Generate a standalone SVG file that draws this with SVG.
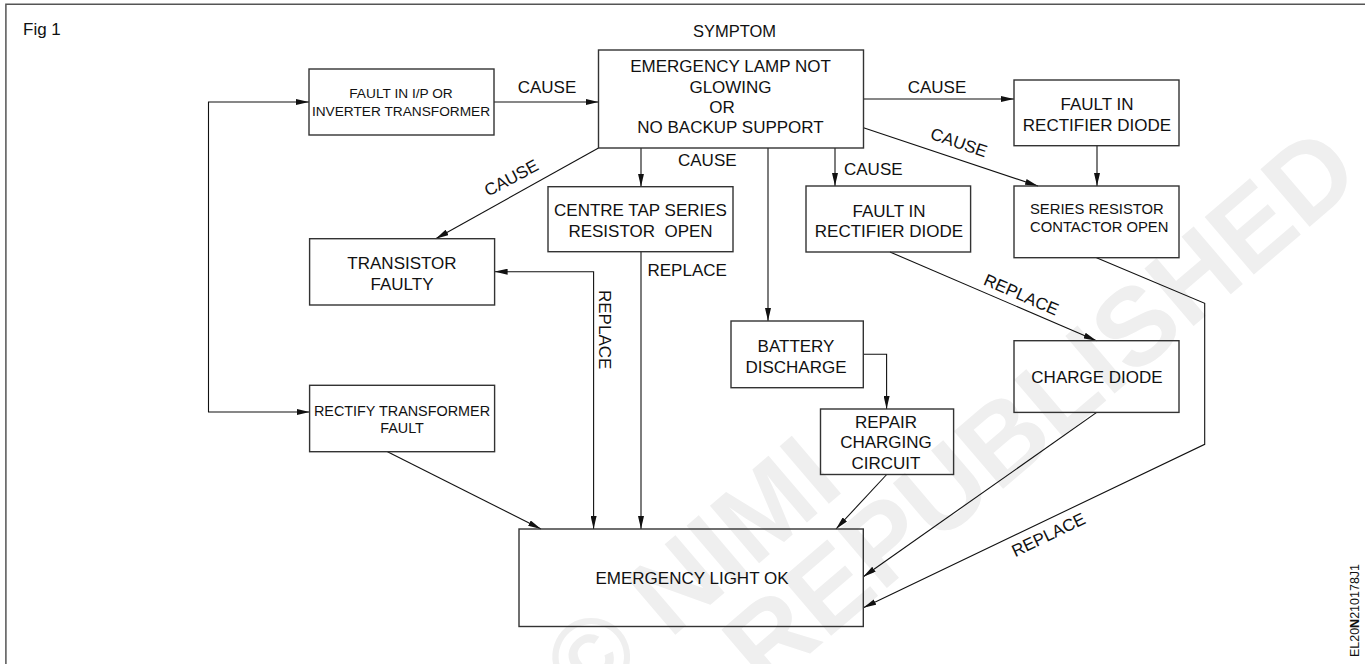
<svg xmlns="http://www.w3.org/2000/svg" width="1365" height="664" viewBox="0 0 1365 664">
  <defs>
    <marker id="arrow" viewBox="0 0 13 6" refX="13" refY="3" markerWidth="13" markerHeight="6" markerUnits="userSpaceOnUse" orient="auto-start-reverse">
      <path d="M0,0 L13,3 L0,6 Z" fill="#111"/>
    </marker>
    <style>
      text { font-family: "Liberation Sans", Arial, sans-serif; fill: #111; }
      .lbl { font-size: 17px; }
      .c { text-anchor: middle; }
      .sm { font-size: 14.8px; }
      .box { fill: none; stroke: #333; stroke-width: 1.4; }
      .wire { fill: none; stroke: #111; stroke-width: 1.1; }
      .arr { marker-end: url(#arrow); }
      .wm { font-size: 110px; font-weight: bold; fill: #efefef; }
    </style>
  </defs>

  <rect width="1365" height="664" fill="#fff"/>

  <!-- faint diagonal watermark -->
  <g id="watermark">
    <text class="wm" transform="translate(585,712) rotate(-40.5)">© NIMI</text>
    <text class="wm" transform="translate(765,692) rotate(-40.5)">REPUBLISHED</text>
  </g>

  <!-- figure frame -->
  <path d="M5.9,664 V4.3 H1365" fill="none" stroke="#555" stroke-width="1.5"/>
  <text x="23" y="35" style="font-size:17px">Fig 1</text>
  <text x="734.5" y="37" class="lbl c" style="font-size:16.5px">SYMPTOM</text>

  <!-- connectors -->
  <g id="connectors">
    <path class="wire" d="M309,102 H208.5 V412 H309.6" marker-start="url(#arrow)" marker-end="url(#arrow)"/>
    <path class="wire arr" d="M494,102 H598.5"/>
    <path class="wire arr" d="M863.5,99 H1014"/>
    <path class="wire arr" d="M1097,145.7 V186"/>
    <path class="wire arr" d="M863.5,127.7 L1038,186"/>
    <path class="wire arr" d="M598.5,148 L435.7,238.7"/>
    <path class="wire arr" d="M641,148 V186.7"/>
    <path class="wire arr" d="M768,148 V321"/>
    <path class="wire arr" d="M835,148 V186"/>
    <path class="wire arr" d="M890,252 L1096.5,340.7"/>
    <path class="wire arr" d="M863.3,354.3 H886.6 V409"/>
    <path class="wire" d="M494.6,271.7 H593.6 V529" marker-start="url(#arrow)" marker-end="url(#arrow)"/>
    <path class="wire arr" d="M641,251.7 V529"/>
    <path class="wire arr" d="M387.5,451.7 L541,529"/>
    <path class="wire arr" d="M886.7,474.5 L836,529"/>
    <path class="wire arr" d="M1096.7,412.4 L863.3,576.7"/>
    <path class="wire arr" d="M1096.5,257.7 L1204.7,303.3 V444.3 L863.3,607.7"/>

    <text class="lbl c" x="547" y="93.3">CAUSE</text>
    <text class="lbl c" x="937" y="93.3">CAUSE</text>
    <text class="lbl c" transform="translate(957,148) rotate(19)">CAUSE</text>
    <text class="lbl c" transform="translate(514,183) rotate(-28)">CAUSE</text>
    <text class="lbl" x="678" y="166">CAUSE</text>
    <text class="lbl" x="844" y="175">CAUSE</text>
    <text class="lbl" transform="translate(599,290) rotate(90)">REPLACE</text>
    <text class="lbl" x="647.5" y="276">REPLACE</text>
    <text class="lbl c" transform="translate(1019,300) rotate(23.5)">REPLACE</text>
    <text class="lbl c" transform="translate(1051,540) rotate(-25.6)">REPLACE</text>
  </g>

  <g id="fault-ip">
    <rect class="box" x="309" y="69" width="185" height="66"/>
    <text class="c" x="401" y="97.7" style="font-size:13.7px">FAULT IN I/P OR</text>
    <text class="c" x="401" y="115.7" style="font-size:13.7px">INVERTER TRANSFORMER</text>
  </g>

  <g id="symptom">
    <rect class="box" x="598.5" y="50" width="265" height="98"/>
    <text class="lbl c" x="730.5" y="72">EMERGENCY LAMP NOT</text>
    <text class="lbl c" x="730.5" y="92.5">GLOWING</text>
    <text class="lbl c" x="722" y="113">OR</text>
    <text class="lbl c" x="730.5" y="133">NO BACKUP SUPPORT</text>
  </g>

  <g id="fault-rectifier-top">
    <rect class="box" x="1014" y="80" width="165" height="65.7"/>
    <text class="lbl c" x="1097" y="110">FAULT IN</text>
    <text class="lbl c" x="1097" y="131">RECTIFIER DIODE</text>
  </g>

  <g id="series-resistor">
    <rect class="box" x="1014" y="186" width="165" height="71.7"/>
    <text class="sm" x="1030" y="214">SERIES RESISTOR</text>
    <text class="sm" x="1030" y="231.7">CONTACTOR OPEN</text>
  </g>

  <g id="centre-tap">
    <rect class="box" x="548" y="186.7" width="185" height="65"/>
    <text class="lbl c" x="640.5" y="216">CENTRE TAP SERIES</text>
    <text class="lbl c" x="640.5" y="237.3" style="white-space:pre">RESISTOR  OPEN</text>
  </g>

  <g id="transistor">
    <rect class="box" x="309.6" y="238.7" width="185" height="66.3"/>
    <text class="lbl c" x="402" y="269.3">TRANSISTOR</text>
    <text class="lbl c" x="402" y="290">FAULTY</text>
  </g>

  <g id="fault-rectifier-mid">
    <rect class="box" x="806" y="186" width="164.6" height="66"/>
    <text class="lbl c" x="889" y="216.7">FAULT IN</text>
    <text class="lbl c" x="889" y="237.3">RECTIFIER DIODE</text>
  </g>

  <g id="battery">
    <rect class="box" x="731" y="321" width="132.3" height="66.7"/>
    <text class="lbl c" x="796" y="351.7">BATTERY</text>
    <text class="lbl c" x="796" y="372.7">DISCHARGE</text>
  </g>

  <g id="repair">
    <rect class="box" x="820.5" y="409" width="133.1" height="65.5"/>
    <text class="lbl c" x="886" y="427.7">REPAIR</text>
    <text class="lbl c" x="886" y="448.3">CHARGING</text>
    <text class="lbl c" x="886" y="469.3">CIRCUIT</text>
  </g>

  <g id="charge-diode">
    <rect class="box" x="1014" y="340.7" width="165" height="71.7"/>
    <text class="lbl c" x="1097" y="383.3">CHARGE DIODE</text>
  </g>

  <g id="rectify">
    <rect class="box" x="309.6" y="385.3" width="185" height="66.4"/>
    <text class="c" x="402" y="416" style="font-size:14.4px">RECTIFY TRANSFORMER</text>
    <text class="c" x="402" y="432.7" style="font-size:14.4px">FAULT</text>
  </g>

  <g id="light-ok">
    <rect class="box" x="519" y="529" width="344.3" height="97.5"/>
    <text class="lbl c" x="692" y="584">EMERGENCY LIGHT OK</text>
  </g>

  <text class="c" transform="translate(1359,610.5) rotate(-90)" style="font-size:12.5px">EL20<tspan font-weight="bold">N</tspan>210178J1</text>
</svg>
